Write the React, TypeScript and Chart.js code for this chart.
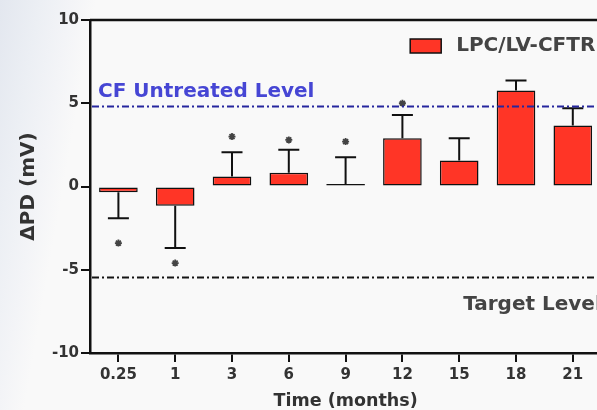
import React, { useEffect, useRef } from "react";
import { Chart, registerables } from "chart.js";

Chart.register(...registerables);

const categories = ["0.25", "1", "3", "6", "9", "12", "15", "18", "21"];
const meanPD = [-0.35, -1.15, 0.6, 0.83, 0.15, 2.9, 1.56, 5.77, 3.66];
const errorEnd = [-1.9, -3.7, 2.05, 2.2, 1.75, 4.3, 2.9, 6.37, 4.7];
const asteriskY = [-3.4, -4.6, 3.0, 2.8, 2.7, 5.0, null, null, null];
const yTicks = [-10, -5, 0, 5, 10];
const cfUntreatedLevel = 4.8;
const targetLevel = -5.47;
const seriesLabel = "LPC/LV-CFTR";
const cfLabel = "CF Untreated Level";
const targetLabel = "Target Level";

const FONT = '"DejaVu Sans", Verdana, sans-serif';
const BAR_RED = "#ff3526";

const decorPlugin = {
  id: "decor",
  afterDatasetsDraw(chart: any) {
    const { ctx, chartArea, scales } = chart;
    const xs = scales.x;
    const ys = scales.y;
    ctx.save();
    // error bars
    ctx.strokeStyle = "#111";
    ctx.lineWidth = 2;
    for (let i = 0; i < categories.length; i++) {
      const x = xs.getPixelForValue(i);
      const y0 = ys.getPixelForValue(meanPD[i]);
      const y1 = ys.getPixelForValue(errorEnd[i]);
      ctx.beginPath();
      ctx.moveTo(x, y0);
      ctx.lineTo(x, y1);
      ctx.moveTo(x - 10.5, y1);
      ctx.lineTo(x + 10.5, y1);
      ctx.stroke();
    }
    // reference lines
    const drawRef = (v: number, color: string) => {
      const y = ys.getPixelForValue(v);
      ctx.strokeStyle = color;
      ctx.lineWidth = 2;
      ctx.setLineDash([7, 3, 2, 3]);
      ctx.beginPath();
      ctx.moveTo(chartArea.left + 2, y);
      ctx.lineTo(chartArea.right, y);
      ctx.stroke();
      ctx.setLineDash([]);
      return y;
    };
    const yCf = drawRef(cfUntreatedLevel, "#26269e");
    const yT = drawRef(targetLevel, "#151515");
    ctx.fillStyle = "#4646d4";
    ctx.font = `bold 20px ${FONT}`;
    ctx.textAlign = "left";
    ctx.textBaseline = "alphabetic";
    ctx.fillText(cfLabel, chartArea.left + 8, yCf - 10);
    ctx.fillStyle = "#444";
    ctx.font = `bold 20px ${FONT}`;
    ctx.fillText(targetLabel, chartArea.right - 138, yT + 32);
    // top frame line
    ctx.strokeStyle = "#111";
    ctx.lineWidth = 2.5;
    ctx.beginPath();
    ctx.moveTo(chartArea.left, chartArea.top);
    ctx.lineTo(chartArea.right, chartArea.top);
    ctx.stroke();
    // legend
    const ds = chart.data.datasets[0];
    const bx = chartArea.right - 191;
    const by = chartArea.top + 19;
    ctx.fillStyle = ds.backgroundColor;
    ctx.fillRect(bx, by, 31, 14);
    ctx.strokeStyle = "#111";
    ctx.lineWidth = 1.5;
    ctx.strokeRect(bx, by, 31, 14);
    ctx.fillStyle = "#444";
    ctx.font = `bold 20px ${FONT}`;
    ctx.textBaseline = "middle";
    ctx.fillText(ds.label, bx + 46, by + 7);
    ctx.restore();
  },
};

export default function App() {
  const ref = useRef<HTMLCanvasElement | null>(null);
  useEffect(() => {
    if (!ref.current) return;
    const chart = new Chart(ref.current, {
      type: "bar",
      data: {
        labels: categories,
        datasets: [
          {
            label: seriesLabel,
            data: meanPD,
            backgroundColor: BAR_RED,
            borderColor: "#111",
            borderWidth: 1.5,
            borderSkipped: false,
            barPercentage: 0.68,
            categoryPercentage: 1,
            order: 2,
          },
          {
            type: "line",
            label: "significance",
            data: asteriskY as any,
            showLine: false,
            pointStyle: "star",
            pointRadius: 3.5,
            pointBorderColor: "#444",
            pointBorderWidth: 1.8,
            pointBackgroundColor: "#444",
            order: 1,
          } as any,
        ],
      },
      options: {
        animation: false,
        responsive: false,
        devicePixelRatio: 1,
        layout: { padding: { top: 20, right: 0, bottom: 0, left: 0 } },
        plugins: {
          legend: { display: false },
          tooltip: { enabled: false },
        },
        scales: {
          x: {
            type: "category",
            offset: true,
            afterFit: (s: any) => {
              s.height = 57;
            },
            grid: {
              drawOnChartArea: false,
              drawTicks: true,
              tickLength: 9,
              color: "#111",
              lineWidth: 2,
              offset: false,
            },
            border: { display: true, color: "#111", width: 2.5 },
            ticks: {
              color: "#333",
              font: { family: FONT, size: 15, weight: "bold" },
              padding: 4,
              maxRotation: 0,
            },
            title: {
              display: true,
              text: "Time (months)",
              color: "#333",
              font: { family: FONT, size: 17.5, weight: "bold", lineHeight: 1 },
              padding: { top: 0, bottom: 0 },
            },
          },
          y: {
            min: -10,
            max: 10,
            afterFit: (s: any) => {
              s.width = 90;
            },
            afterBuildTicks: (s: any) => {
              s.ticks = yTicks.map((v) => ({ value: v }));
            },
            grid: {
              drawOnChartArea: false,
              drawTicks: true,
              tickLength: 9,
              color: "#111",
              lineWidth: 2,
            },
            border: { display: true, color: "#111", width: 2.5 },
            ticks: {
              color: "#333",
              font: { family: FONT, size: 15, weight: "bold" },
              padding: 2,
            },
            title: {
              display: true,
              text: "ΔPD (mV)",
              color: "#333",
              font: { family: FONT, size: 20, weight: "bold" },
              padding: { top: 17, bottom: 0 },
            },
          },
        },
      },
      plugins: [decorPlugin],
    });
    return () => chart.destroy();
  }, []);

  return (
    <div
      style={{
        position: "fixed",
        left: 0,
        top: 0,
        width: 597,
        height: 410,
        overflow: "hidden",
        background:
          "linear-gradient(100deg, #e3e7ef 0px, #eceff4 40px, #f3f4f7 70px, #f9f9f9 95px, #f9f9f9 100%)",
      }}
    >
      <canvas ref={ref} width={607} height={410} style={{ display: "block" }} />
    </div>
  );
}
